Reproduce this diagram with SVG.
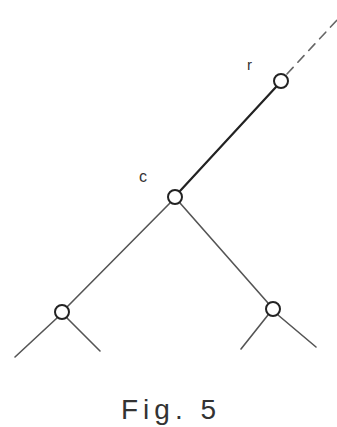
<svg xmlns="http://www.w3.org/2000/svg" width="337" height="427" viewBox="0 0 337 427">
<style>
.node{fill:#fff;stroke:#222;stroke-width:2}
.edge{stroke:#555;stroke-width:1.6;fill:none;stroke-linecap:round}
.thick{stroke:#222;stroke-width:2.2}
.dash{stroke:#666;stroke-width:1.6;stroke-dasharray:9 7}
.lbl{font-family:"Liberation Sans",Arial,sans-serif;fill:#333}
</style>
<rect width="337" height="427" fill="#fff"/>
<g id="connectors">
<line class="edge dash" x1="287" y1="74" x2="337" y2="20"/>
<line class="edge thick" x1="276" y1="87" x2="180" y2="191"/>
<line class="edge" x1="170" y1="203" x2="67" y2="307"/>
<line class="edge" x1="180" y1="203" x2="268" y2="303"/>
<line class="edge" x1="57" y1="318" x2="15" y2="357"/>
<line class="edge" x1="67" y1="318" x2="100" y2="351"/>
<line class="edge" x1="268" y1="315" x2="241" y2="349"/>
<line class="edge" x1="278" y1="315" x2="316" y2="347"/>
</g>
<g id="node-r"><circle class="node" cx="281" cy="81" r="7"/><text class="lbl" x="247" y="70" font-size="15">r</text></g>
<g id="node-c"><circle class="node" cx="175" cy="197" r="7"/><text class="lbl" x="139" y="182" font-size="16">c</text></g>
<g id="node-left"><circle class="node" cx="62" cy="312" r="7"/></g>
<g id="node-right"><circle class="node" cx="273" cy="309" r="7"/></g>
<text class="lbl" x="121" y="419" font-size="28" letter-spacing="5">Fig. 5</text>
</svg>
